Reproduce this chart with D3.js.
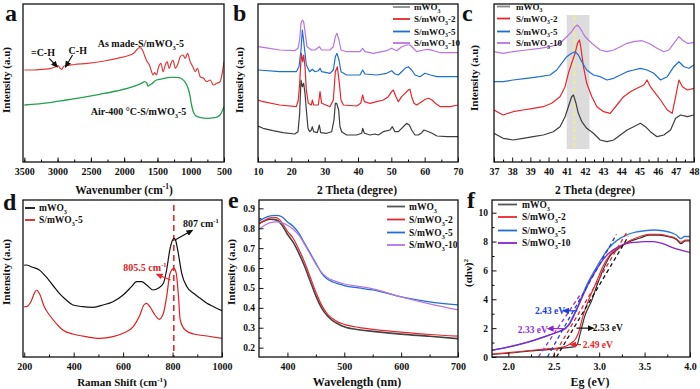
<!DOCTYPE html>
<html><head><meta charset="utf-8">
<script src="https://cdn.jsdelivr.net/npm/d3@7"></script>
<style>
body{margin:0;background:#fff}
svg{display:block}
text{font-family:"Liberation Serif","Times New Roman",serif;font-weight:bold;fill:#111}
</style>
</head><body><script>
// ---------------- DATA ----------------
// (a) FTIR  [wavenumber cm-1, intensity a.u.]
const ftirAsMade=[[3500,92],[3374,92],[3224,92.7],[3098,93.7],[3052,94.7],[3020,95.5],[2992,96.3],[2965,94],[2941,92.7],[2902,96],[2750,97.5],[2552,98.7],[2300,101],[2104,103.7],[1855,108.7],[1805,112.7],[1766,114.3],[1730,112.7],[1696,107],[1655,100.3],[1621,97],[1596,92],[1566,87],[1542,89.3],[1516,87],[1482,95.3],[1446,98.7],[1416,90.3],[1382,97],[1356,100.3],[1322,93.7],[1296,98.7],[1266,102],[1232,93.7],[1198,97],[1157,105.3],[1117,107],[1083,103.7],[1048,108.7],[1008,100.3],[968,95.3],[933,90.3],[899,93.7],[858,85.3],[809,83.7],[758,80.3],[709,82],[659,77],[609,78.7],[559,80.3],[519,92],[500,100.3]];
const ftirAir=[[3500,57],[3123,59.3],[2872,62],[2621,64.7],[2369,67.7],[2118,71],[1867,75.3],[1741,78.7],[1691,80.3],[1660,79],[1641,76],[1615,77],[1591,78],[1515,82],[1415,83.3],[1314,84.7],[1214,84.7],[1138,83.3],[1088,80.3],[1048,75.3],[1013,67],[987,57],[952,48.7],[902,45.3],[761,43.7],[636,44.3],[560,47],[500,55.3]];
const ftirTicks=[3500,3000,2500,2000,1500,1000,500];

// (b) XRD 10-70  [2theta, intensity]
const xrdB_m=[[10,36],[11.5,33.7],[14.5,31.3],[17.5,29.3],[21,28],[22,30.3],[22.5,48.7],[22.9,82],[23.3,75.3],[23.7,78.7],[24.1,68.7],[24.5,52],[25,33.7],[25.5,30.3],[26,32],[26.3,35.3],[26.7,30.3],[27.8,29.3],[28.4,37],[28.8,29.3],[30.6,28.7],[32.1,30.3],[32.8,42],[33.2,58.7],[33.6,58.7],[34.2,52],[34.6,35.3],[35.1,30.3],[36.6,27],[39.6,27],[41.1,28.7],[41.4,33.7],[41.9,28.7],[43.6,27],[45.1,28],[46.1,27],[47.6,30.3],[49.6,32],[50.3,35.3],[51.1,30.3],[52.1,30.3],[53.1,33.7],[54.1,37],[54.6,38.7],[55.4,37],[56.1,32],[57.1,27],[58.1,27],[59.1,29.3],[59.8,32],[61.2,30.3],[62.2,28.7],[63.7,26],[66.7,25.3],[70,25.3]];
const xrdB_2=[[10,62],[11.5,60.3],[16.5,57],[21.5,55.3],[22.1,62],[22.5,78.7],[23,108.7],[23.4,100.3],[23.7,107],[24.1,95.3],[24.5,72],[25.1,58.7],[26,57],[26.3,62],[26.7,57],[28.1,57],[28.6,70.3],[29.1,58.7],[31.6,55.3],[32.6,62],[33.2,90.3],[33.8,95.3],[34.4,78.7],[34.9,62],[35.6,57],[39.6,56],[40.8,58.7],[41.4,67],[41.9,60.3],[43.6,58.7],[45.6,60.3],[47.6,62],[49.1,65.3],[50.1,70.3],[50.6,72],[51.4,65.3],[52.1,60.3],[53.1,65.3],[54.1,68.7],[55.1,72],[55.6,72.7],[56.1,65.3],[56.8,58.7],[57.6,57],[59.1,60.3],[60.2,62.7],[61.2,63.7],[62.2,62],[63.2,58.7],[64.7,55.3],[67.7,55.3],[70,57]];
const xrdB_5=[[10,92],[16.5,90.3],[21.5,90.3],[22.3,95.3],[22.9,112],[23.3,132],[23.6,123.7],[24,112],[24.5,97],[25.5,90.3],[26.3,92.7],[27.1,90.3],[28.1,91.3],[28.6,93.7],[29.1,90.3],[31.6,88.7],[32.6,92],[33.2,105.3],[33.7,108.7],[34.3,102],[34.9,90.3],[36.6,87],[40.6,87],[41.4,92],[42.1,88],[45.6,87],[48.6,88.7],[50.1,91.3],[51.1,88],[52.1,87],[53.1,90.3],[54.1,93.7],[55.1,95.3],[56.1,92],[57.1,87],[58.6,85.3],[60.1,88.7],[61.7,87],[63.7,85.3],[70,85.3]];
const xrdB_10=[[10,115.3],[13.5,113.7],[16.5,112],[21,111.3],[22,113.7],[22.5,122],[22.9,138.7],[23.3,142],[23.7,140.3],[24.1,130.3],[24.7,115.3],[26,112],[27.1,112],[28.4,115.3],[29.1,112],[31.6,112],[32.6,115.3],[33.2,125.3],[33.7,128.7],[34.3,122],[34.9,112],[36.6,110.3],[40.6,110.3],[41.4,113.7],[42.1,110.3],[44.6,108.7],[48.6,111.3],[50.1,113.7],[51.6,111.3],[53.1,115.3],[54.6,117],[55.6,117],[56.6,113.7],[57.6,110.3],[59.6,112],[61.1,112.7],[62.7,111.3],[64.7,109.3],[70,109.3]];
const xrdTicks=[10,20,30,40,50,60,70];

// (c) XRD 37-48 zoom
const xrdC_m=[[37,28.7],[37.5,23.7],[38.05,22],[38.6,23.7],[39.16,25.3],[39.71,27],[40.26,30.3],[40.63,35.3],[40.91,45.3],[41.09,55.3],[41.27,65.3],[41.37,67],[41.51,58.7],[41.64,48.7],[41.83,40.3],[42.1,33.7],[42.47,28.7],[42.84,22],[43.21,20.3],[43.58,22],[43.95,27],[44.32,32],[44.68,35.3],[45.05,38.7],[45.33,35.3],[45.6,30.3],[45.97,25.3],[46.34,27],[46.71,32],[46.99,43.7],[47.26,47],[47.63,45.3],[48,47]];
const xrdC_2=[[37,52],[37.5,47],[38.05,50.3],[38.6,52],[39.16,53.7],[39.71,55.3],[40.17,58.7],[40.63,65.3],[40.91,75.3],[41.09,88.7],[41.27,98.7],[41.46,108.7],[41.59,118.7],[41.7,122],[41.77,115.3],[41.92,95.3],[42.1,78.7],[42.38,65.3],[42.66,55.3],[43.03,50.3],[43.39,48.7],[43.76,57],[44.13,65.3],[44.5,70.3],[44.87,73.7],[45.24,77],[45.42,82],[45.6,75.3],[45.88,68.7],[46.16,62],[46.53,52],[46.8,48.7],[46.99,65.3],[47.17,82],[47.36,75.3],[47.63,72],[48,73.7]];
const xrdC_5=[[37,80.3],[37.5,80.3],[38.05,82],[38.79,83.7],[39.52,85.3],[40.08,87],[40.45,92],[40.72,98.7],[41,105.3],[41.27,108.7],[41.46,110.3],[41.64,107],[41.83,100.3],[42.1,92],[42.47,87],[42.84,85.3],[43.21,82],[43.58,83.7],[43.95,87],[44.32,90.3],[44.68,92],[45.05,93.7],[45.42,92],[45.79,88.7],[46.16,82],[46.53,85.3],[46.89,95.3],[47.17,100.3],[47.45,95.3],[47.72,93.7],[48,97]];
const xrdC_10=[[37,110.3],[37.5,108.7],[38.05,110.3],[38.79,112],[39.52,113.7],[40.08,115.3],[40.45,117],[40.72,120.3],[41,125.3],[41.27,130.3],[41.46,135.3],[41.59,137],[41.74,133.7],[42.01,125.3],[42.38,118.7],[42.84,112],[43.21,110.3],[43.58,112],[43.95,115.3],[44.32,118.7],[44.68,120.3],[45.14,121.3],[45.51,118.7],[45.97,113.7],[46.34,110.3],[46.62,112],[46.89,118.7],[47.17,125.3],[47.36,122],[47.63,118.7],[48,119.3]];
const xrdCTicks=[37,38,39,40,41,42,43,44,45,46,47,48];
const shadeBand=[41.0,42.25];
const peakLine=41.42;

// (d) Raman  [cm-1, intensity]
const ramanM=[[200,91.7],[207,92],[234,89.7],[261,87],[288,80.3],[315,72],[342,63.7],[370,57],[397,52],[437,50.3],[478,49.7],[519,52],[559,55.3],[600,62],[634,70.3],[654,75.3],[675,75.3],[695,72],[722,67],[742,68.7],[763,73.7],[776,87],[790,108.7],[806,118.7],[812,117],[822,105.3],[837,83.7],[858,70.3],[885,63.7],[912,58.7],[939,53.7],[966,50.3],[1000,46.3]];
const ramanS5=[[200,50.3],[207,50.3],[227,55.3],[241,63.7],[250,67],[261,63.7],[281,50.3],[302,42],[329,33.7],[356,27],[397,23],[451,20.3],[505,18.7],[559,20.3],[600,23.7],[641,30.3],[668,42],[684,52],[695,53.7],[708,50.3],[729,42],[746,37.7],[763,43.7],[776,60.3],[790,83.7],[805.5,88.7],[815,83.7],[824,60.3],[831,37],[851,27],[885,23],[939,21],[1000,18.7]];
const ramanTicks=[200,400,600,800,1000];
const ramanMark=805;

// (e) UV-vis
const eWave=[350,360,370,380,390,400,410,420,430,440,450,460,470,480,490,500,525,550,600,650,700];
const eM  =[0.825,0.838,0.845,0.842,0.818,0.77,0.73,0.675,0.61,0.535,0.46,0.40,0.36,0.335,0.318,0.305,0.29,0.282,0.268,0.257,0.245];
const eS2 =[0.82,0.84,0.852,0.853,0.83,0.785,0.75,0.695,0.63,0.555,0.48,0.415,0.37,0.345,0.327,0.317,0.302,0.292,0.278,0.266,0.258];
const eS5 =[0.835,0.852,0.862,0.865,0.858,0.832,0.81,0.775,0.725,0.675,0.625,0.575,0.545,0.53,0.52,0.512,0.50,0.49,0.455,0.43,0.415];
const eS10=[0.795,0.815,0.828,0.832,0.828,0.815,0.795,0.765,0.72,0.67,0.62,0.578,0.553,0.538,0.528,0.52,0.508,0.495,0.455,0.42,0.39];
const eXTicks=[400,500,600,700];
const eYTicks=[0.2,0.3,0.4,0.5,0.6,0.7,0.8,0.9];

// (f) Tauc  [Eg eV, (ahv)^2]
const fM=[[1.82,0.18],[2.0,0.26],[2.24,0.42],[2.5,0.55],[2.65,0.65],[2.73,0.72],[2.76,0.9],[2.79,1.6],[2.84,2.8],[2.92,3.95],[2.97,4.87],[3.04,6.0],[3.12,7.0],[3.19,7.4],[3.30,7.9],[3.45,8.25],[3.55,8.45],[3.65,8.45],[3.75,8.35],[3.85,8.15],[3.9,7.85],[3.95,8.05],[4.0,8.05]];
const fS2=[[1.82,0.2],[2.0,0.3],[2.24,0.45],[2.4,0.55],[2.57,0.66],[2.65,0.8],[2.7,1.0],[2.74,1.25],[2.77,1.65],[2.82,2.8],[2.9,4.2],[2.97,5.2],[3.04,6.26],[3.12,7.1],[3.23,7.65],[3.34,8.07],[3.45,8.35],[3.55,8.5],[3.65,8.5],[3.75,8.4],[3.85,8.2],[3.9,7.95],[3.95,8.1],[4.0,8.1]];
const fS5=[[1.82,0.45],[2.0,0.68],[2.2,1.0],[2.4,1.4],[2.55,1.75],[2.62,1.98],[2.67,2.3],[2.71,2.8],[2.75,3.3],[2.8,4.05],[2.85,4.8],[2.9,5.45],[2.95,6.0],[3.0,6.55],[3.05,7.05],[3.1,7.5],[3.2,8.1],[3.3,8.45],[3.4,8.65],[3.5,8.75],[3.6,8.8],[3.7,8.75],[3.8,8.6],[3.85,8.45],[3.9,8.2],[3.94,8.35],[4.0,8.35]];
const fS10=[[1.82,0.47],[2.0,0.7],[2.2,1.02],[2.4,1.42],[2.55,1.75],[2.62,1.95],[2.67,2.25],[2.71,2.7],[2.75,3.25],[2.8,3.95],[2.85,4.65],[2.9,5.3],[2.95,5.85],[3.0,6.35],[3.05,6.8],[3.1,7.15],[3.2,7.6],[3.3,7.85],[3.4,7.95],[3.5,8.0],[3.6,8.0],[3.7,7.85],[3.8,7.6],[3.9,7.4],[4.0,7.25]];
const tanM=[[2.53,0],[3.32,8.35]];
const tanS2=[[2.49,0],[3.30,8.6]];
const tanS5=[[2.43,0],[3.19,8.5]];
const tanS10=[[2.33,0],[2.8,4.4]];
const fXTicks=[2.0,2.5,3.0,3.5,4.0];
const fYTicks=[0,2,4,6,8,10];

// ---------------- STYLE ----------------
const C={blk:"#3d3d3d",red:"#e8262c",blue:"#1f6fd2",pur:"#b873e6",purD:"#8a22c8",grn:"#22a050",blueD:"#1a3fe0"};
const svg=d3.select("body").append("svg").attr("width",700).attr("height",389);
const defs=svg.append("defs");
function marker(id,color){
  defs.append("marker").attr("id",id).attr("viewBox","0 0 8 8").attr("refX",6).attr("refY",4)
    .attr("markerWidth",7).attr("markerHeight",7).attr("markerUnits","userSpaceOnUse").attr("orient","auto")
    .append("path").attr("d","M0,0.5 L8,4 L0,7.5 Z").attr("fill",color);
}
marker("arK","#111");marker("arR",C.red);marker("arB",C.blueD);marker("arP",C.purD);

function rich(g,x,y,parts,size,opts={}){
  const t=g.append("text").attr("x",x).attr("y",y).attr("font-size",size);
  if(opts.anchor)t.attr("text-anchor",opts.anchor);
  if(opts.fill)t.style("fill",opts.fill);
  if(opts.transform)t.attr("transform",opts.transform);
  let cur=0;
  parts.forEach(p=>{
    const [s,m]=Array.isArray(p)?p:[p,null];
    const target=m==="sub"?size*0.3:m==="sup"?-size*0.4:0;
    const ts=t.append("tspan").attr("dy",target-cur).text(s);
    if(m)ts.attr("font-size",size*0.65);
    cur=target;
  });
  return t;
}

let clipN=0;
function panel(o){
  const x=d3.scaleLinear().domain(o.xd).range(o.xr);
  const y=d3.scaleLinear().domain(o.yd).range(o.yr);
  const g=svg.append("g");
  const id="cl"+(clipN++);
  defs.append("clipPath").attr("id",id).append("rect")
    .attr("x",o.xr[0]).attr("y",o.yr[1]).attr("width",o.xr[1]-o.xr[0]).attr("height",o.yr[0]-o.yr[1]);
  const plot=g.append("g").attr("clip-path",`url(#${id})`);
  if(o.xm){
    g.append("g").attr("transform",`translate(0,${o.yr[0]})`)
      .call(d3.axisBottom(x).tickValues(o.xm).tickSize(-2.5).tickFormat(""))
      .call(a=>a.select(".domain").remove());
  }
  g.append("g").attr("transform",`translate(0,${o.yr[0]})`)
    .call(d3.axisBottom(x).tickValues(o.xt).tickSize(-4.5).tickPadding(6).tickFormat(o.xf||d3.format("d")))
    .call(a=>{a.select(".domain").remove();a.selectAll("text").attr("font-size",10).attr("font-family",null).style("fill","#111");a.selectAll("line").attr("stroke","#111");});
  if(o.yt){
    if(o.ym){
      g.append("g").attr("transform",`translate(${o.xr[0]},0)`)
        .call(d3.axisLeft(y).tickValues(o.ym).tickSize(-2.5).tickFormat(""))
        .call(a=>a.select(".domain").remove());
    }
    g.append("g").attr("transform",`translate(${o.xr[0]},0)`)
      .call(d3.axisLeft(y).tickValues(o.yt).tickSize(-4.5).tickPadding(o.ypad||4).tickFormat(o.yf||d3.format("d")))
      .call(a=>{a.select(".domain").remove();a.selectAll("text").attr("font-size",o.ys||10).attr("font-family",null).style("fill","#111");a.selectAll("line").attr("stroke","#111");});
  }
  g.selectAll(".tick line").attr("stroke-width",1);
  return {x,y,g,plot,o};
}
function frame(p){
  const o=p.o;
  p.g.append("rect").attr("x",o.xr[0]).attr("y",o.yr[1]).attr("width",o.xr[1]-o.xr[0]).attr("height",o.yr[0]-o.yr[1])
    .attr("fill","none").attr("stroke","#111").attr("stroke-width",1.3);
}
function curve(p,data,color,w,cv){
  const ln=d3.line().x(d=>p.x(d[0])).y(d=>p.y(d[1])).curve(cv||d3.curveLinear);
  p.plot.append("path").datum(data).attr("d",ln).attr("fill","none").attr("stroke",color).attr("stroke-width",w||1.2).attr("stroke-linejoin","round");
}
function legend(g,x0,x1,tx,rows,size){
  rows.forEach(r=>{
    g.append("line").attr("x1",x0).attr("x2",x1).attr("y1",r.y).attr("y2",r.y).attr("stroke",r.c).attr("stroke-width",1.8);
    rich(g,tx,r.y+3.2,r.t,size);
  });
}
function arrow(p,a,b,mk,color,w){
  p.g.append("line").attr("x1",p.x(a[0])).attr("y1",p.y(a[1])).attr("x2",p.x(b[0])).attr("y2",p.y(b[1]))
    .attr("stroke",color).attr("stroke-width",w||1.2).attr("marker-end",`url(#${mk})`);
}
function letter(t,x,y){svg.append("text").attr("x",x).attr("y",y).attr("font-size",24).text(t);}
function ytitle(parts,x,y,size){rich(svg,0,0,parts,size||11,{anchor:"middle",transform:`translate(${x},${y}) rotate(-90)`});}
function xtitle(parts,x,y,size){rich(svg,x,y,parts,size||11.5,{anchor:"middle"});}
const range=(a,b,s)=>d3.range(a,b+s/2,s);
const lblM=["mWO",["3","sub"]];
const lbl=n=>["S/mWO",["3","sub"],"-"+n];

// ---------------- (a) ----------------
{
  const p=panel({xd:[3520,500],xr:[23,224],yd:[0,158],yr:[162,4],xt:ftirTicks,xm:range(500,3500,250)});
  curve(p,ftirAir,C.grn,1.3,d3.curveMonotoneX);
  curve(p,ftirAsMade,"#e03a3a",1.2,d3.curveMonotoneX);
  frame(p);
  rich(p.g,p.x(2397),p.y(119)+3.5,["As made-S/mWO",["3","sub"],"-5"],10);
  rich(p.g,p.x(2501),p.y(51)+3.5,["Air-400 °C-S/mWO",["3","sub"],"-5"],10);
  rich(p.g,p.x(3220),p.y(110)+3.5,["=C-H"],10,{anchor:"middle"});
  rich(p.g,p.x(2697),p.y(112)+3.5,["C-H"],10,{anchor:"middle"});
  arrow(p,[3126,103.7],[3011,95.5],"arK","#111",1.2);
  arrow(p,[2776,107],[2877,95.5],"arK","#111",1.2);
}
letter("a",5,21);
ytitle(["Intensity (a.u)"],10,80);
xtitle(["Wavenumber (cm",["-1","sup"],")"],124,194);

// ---------------- (b) ----------------
{
  const p=panel({xd:[10,70],xr:[258,458],yd:[0,158],yr:[162,4],xt:xrdTicks,xm:range(15,65,10)});
  curve(p,xrdB_m,C.blk,1.2);curve(p,xrdB_2,C.red,1.2);curve(p,xrdB_5,C.blue,1.2);curve(p,xrdB_10,C.pur,1.2);
  frame(p);
  legend(p.g,393,410,414,[{y:7,c:"#8a8a8a",t:lblM},{y:19,c:C.red,t:lbl(2)},{y:31.5,c:C.blue,t:lbl(5)},{y:43,c:C.pur,t:lbl(10)}],9);
}
letter("b",233,21);
ytitle(["Intensity (a.u)"],243,80);
xtitle(["2 Theta (degree)"],357,194);

// ---------------- (c) ----------------
{
  const p=panel({xd:[37,48],xr:[494,694],yd:[0,158],yr:[162,4],xt:xrdCTicks,xm:range(37.5,47.5,1)});
  p.plot.append("rect").attr("x",p.x(shadeBand[0])).attr("width",p.x(shadeBand[1])-p.x(shadeBand[0]))
    .attr("y",p.y(147)).attr("height",p.y(13)-p.y(147)).attr("fill","#dcdcdc");
  p.plot.append("line").attr("x1",p.x(peakLine)).attr("x2",p.x(peakLine)).attr("y1",p.y(147)).attr("y2",p.y(13))
    .attr("stroke","#f3ee80").attr("stroke-width",1.5).attr("stroke-dasharray","5,3");
  curve(p,xrdC_m,C.blk,1.2);curve(p,xrdC_2,C.red,1.2);curve(p,xrdC_5,C.blue,1.2);curve(p,xrdC_10,C.pur,1.2);
  frame(p);
  legend(p.g,497,510,516,[{y:6.5,c:"#8a8a8a",t:lblM},{y:18.5,c:C.red,t:lbl(2)},{y:31.5,c:C.blue,t:lbl(5)},{y:43,c:C.pur,t:lbl(10)}],9);
}
letter("c",462,21);
ytitle(["Intensity (a.u)"],478,78);
xtitle(["2 Theta (degree)"],595,194);

// ---------------- (d) ----------------
{
  const p=panel({xd:[195,1000],xr:[23,222],yd:[0,157],yr:[357,200],xt:ramanTicks,xm:range(300,900,200)});
  p.plot.append("line").attr("x1",p.x(ramanMark)).attr("x2",p.x(ramanMark)).attr("y1",p.y(152)).attr("y2",p.y(0))
    .attr("stroke",C.red).attr("stroke-width",1.6).attr("stroke-dasharray","6,4");
  curve(p,ramanM,"#111",1.2,d3.curveMonotoneX);
  curve(p,ramanS5,"#e02020",1.2,d3.curveMonotoneX);
  frame(p);
  legend(p.g,25,35,39,[{y:208,c:"#111",t:lblM},{y:220,c:"#e02020",t:["S/mWO",["3","sub"],"-5"]}],9.5);
  rich(p.g,p.x(842),p.y(134)+3.5,["807  cm",["-1","sup"]],10);
  arrow(p,[810,117],[878,126.5],"arK","#111",1.2);
  rich(p.g,p.x(601),p.y(90)+3.5,["805.5 cm",["-1","sup"]],10,{fill:"#e02020"});
  arrow(p,[792,77],[738,82.5],"arR",C.red,1.2);
}
letter("d",3,210);
ytitle(["Intensity (a.u)"],10,272);
xtitle(["Raman Shift (cm",["-1","sup"],")"],122,386,11);

// ---------------- (e) ----------------
{
  const p=panel({xd:[350,700],xr:[259,458],yd:[0.153,0.942],yr:[357,200],xt:eXTicks,xm:range(450,650,100),
    yt:eYTicks,ym:range(0.25,0.85,0.1),yf:d3.format(".1f"),ypad:4,ys:9.5});
  const mk=v=>eWave.map((w,i)=>[w,v[i]]);
  curve(p,mk(eM),"#444",1.6,d3.curveMonotoneX);
  curve(p,mk(eS2),C.red,1.2,d3.curveMonotoneX);
  curve(p,mk(eS5),C.blue,1.3,d3.curveMonotoneX);
  curve(p,mk(eS10),C.pur,1.2,d3.curveMonotoneX);
  frame(p);
  legend(p.g,387,405,409,[{y:206.5,c:"#555",t:lblM},{y:219.5,c:C.red,t:lbl(2)},{y:232.5,c:C.blue,t:lbl(5)},{y:245,c:C.pur,t:lbl(10)}],9.5);
}
letter("e",228,208);
ytitle(["Intensity (a.u)"],235,272);
xtitle(["Wavelength (nm)"],357,386,12);

// ---------------- (f) ----------------
{
  const p=panel({xd:[1.82,4.0],xr:[492,690],yd:[0,10.88],yr:[357,200],xt:fXTicks,xm:range(2.25,3.75,0.5),xf:d3.format(".1f"),
    yt:fYTicks,ym:range(1,9,2),ypad:4,ys:9.5});
  curve(p,fM,"#333",1.2,d3.curveMonotoneX);
  curve(p,fS2,C.red,1.2,d3.curveMonotoneX);
  curve(p,fS5,"#2a78d8",1.3,d3.curveMonotoneX);
  curve(p,fS10,C.purD,1.3,d3.curveMonotoneX);
  const dash=(d,c)=>p.plot.append("path").datum(d).attr("d",d3.line().x(v=>p.x(v[0])).y(v=>p.y(v[1])))
    .attr("stroke",c).attr("stroke-width",1.3).attr("stroke-dasharray","4,3").attr("fill","none");
  dash(tanM,"#111");dash(tanS2,C.red);dash(tanS5,C.blueD);dash(tanS10,"#9a2bd8");
  frame(p);
  legend(p.g,498,517,522,[{y:204.5,c:"#555",t:lblM},{y:217,c:C.red,t:lbl(2)},{y:230.5,c:C.blue,t:lbl(5)},{y:243,c:C.purD,t:lbl(10)}],9.5);
  rich(p.g,p.x(2.46),p.y(3.17)+3,["2.43 eV"],9.5,{anchor:"middle",fill:C.blueD});
  arrow(p,[2.76,3.2],[2.61,3.2],"arB",C.blueD,1.2);
  rich(p.g,p.x(2.27),p.y(1.85)+3,["2.33 eV"],9.5,{anchor:"middle",fill:"#9a2bd8"});
  arrow(p,[2.64,1.97],[2.44,1.97],"arP","#9a2bd8",1.2);
  rich(p.g,p.x(2.93),p.y(2.0)+3,["2.53 eV"],9.5,{});
  arrow(p,[2.75,2.0],[2.93,2.0],"arK","#111",1.2);
  rich(p.g,p.x(2.82),p.y(0.8)+3,["2.49 eV"],9.5,{fill:C.red});
  arrow(p,[2.8,0.86],[2.69,0.86],"arR",C.red,1.2);
}
letter("f",467,208);
ytitle(["(αhν)",["2","sup"]],472,273,11);
xtitle(["Eg (eV)"],590,386,12);
</script></body></html>
